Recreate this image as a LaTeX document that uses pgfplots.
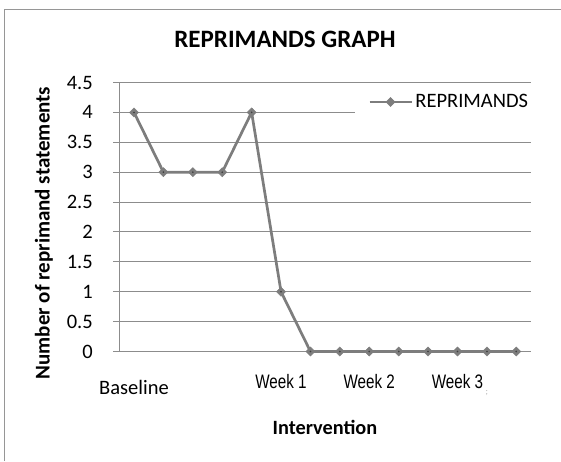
\documentclass[border=0pt]{standalone}
\usepackage{pgfplots}
\pgfplotsset{compat=1.18}
\usepackage{fontspec}
\setmainfont{Carlito}
\newfontfamily\arialfont{Liberation Sans}
\definecolor{lineg}{RGB}{125,125,125}
\definecolor{gridg}{RGB}{140,140,140}
\definecolor{frameg}{RGB}{150,150,150}
\newcommand{\wk}[1]{\raisebox{5.3pt}{\scalebox{0.78}[1]{\arialfont\fontsize{19.5}{22}\selectfont #1}}}
\begin{document}
\begin{tikzpicture}
\path[use as bounding box] (0,0) rectangle (561pt,-461pt);
\draw[frameg, line width=1pt] (4.3pt,-461pt) -- (4.3pt,-9pt) -- (561pt,-9pt);
\begin{axis}[
  at={(119.3pt,-351.5pt)}, anchor=south west,
  scale only axis, width=411.7pt, height=269pt,
  xmin=-0.5, xmax=13.5, ymin=0, ymax=4.5,
  ytick={0,0.5,...,4.5},
  xtick={0,5,8,11,12},
  xticklabels={Baseline,\wk{Week 1},\wk{Week 2},\wk{Week 3},{\color{black!30}\fontsize{9}{10}\selectfont ;}},
  x tick label style={anchor=base, yshift=-36.5pt, inner sep=0pt},
  y tick label style={anchor=east, inner sep=0pt, xshift=-20.3pt},
  /pgf/number format/assume math mode=true,
  tick label style={font=\fontsize{20.5}{24}\selectfont},
  major x tick style={draw=none},
  ymajorgrids, grid style={gridg, line width=1pt},
  axis y line*=left, axis x line*=bottom,
  axis line style={gridg, line width=1pt},
  y axis line style={gridg},
  tick align=outside, major tick length=6pt,
  major y tick style={gridg, line width=1pt},
  x axis line style={draw=none},
  title={\fontsize{25}{28}\selectfont\bfseries REPRIMANDS GRAPH},
  title style={at={(axis description cs:0.4025,1.1394)}, anchor=center, inner sep=0pt},
  xlabel={\fontsize{20.3}{24}\selectfont\bfseries Intervention},
  xlabel style={at={(axis description cs:0.4996,-0.2807)}, anchor=center, inner sep=0pt},
  ylabel={\fontsize{21}{24}\selectfont\bfseries Number of reprimand statements},
  ylabel style={at={(axis description cs:-0.183,0.4405)}, anchor=center, inner sep=0pt},
  legend style={at={(axis description cs:0.5725,0.9275)}, anchor=west, draw=none, fill=white,
    inner xsep=13pt, inner ysep=6pt, font=\fontsize{20.5}{24}\selectfont,
    nodes={inner xsep=2.5pt, inner ysep=0pt}},
  legend cell align=left,
  legend image code/.code={\draw[mark repeat=2,mark phase=2,#1] plot coordinates {(0pt,0pt) (21pt,0pt) (42pt,0pt)};},
  clip=false,
]
\addplot[lineg, line width=2.7pt, mark=square*, mark size=3.2pt, mark options={rotate=45, line width=0.5pt, fill=lineg, draw=lineg}]
  coordinates {(0,4) (1,3) (2,3) (3,3) (4,4) (5,1) (6,0) (7,0) (8,0) (9,0) (10,0) (11,0) (12,0) (13,0)};
\addlegendentry{REPRIMANDS}
\addplot[only marks, mark=*, mark size=0.6pt, black!75, forget plot]
  coordinates {(0,4) (1,3) (2,3) (3,3) (4,4) (5,1) (6,0) (7,0) (8,0) (9,0) (10,0) (11,0) (12,0) (13,0)};
\end{axis}
\end{tikzpicture}
\end{document}
